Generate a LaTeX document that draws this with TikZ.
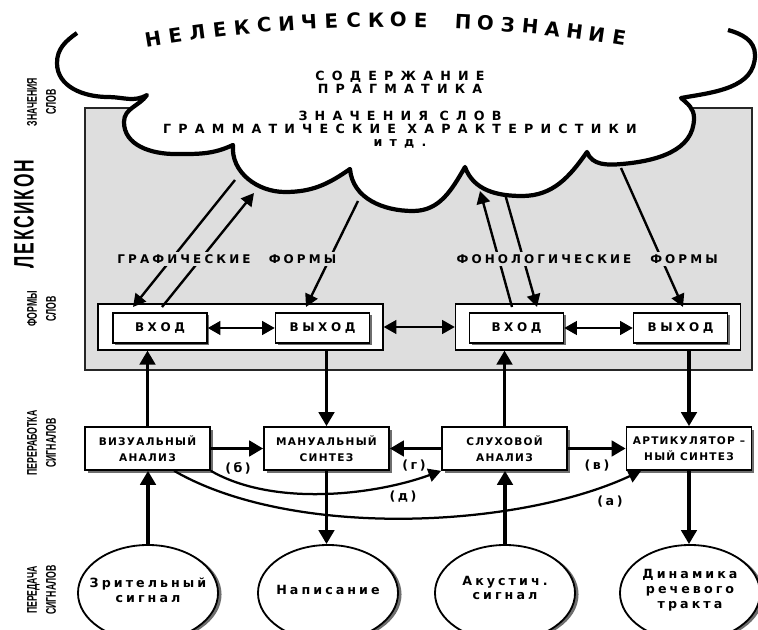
\documentclass[tikz,border=0pt]{standalone}
\usepackage{fontspec}
\usepackage{graphicx}
\setmainfont{DejaVu Sans}
\newfontfamily\sidefont{Liberation Sans}
\usetikzlibrary{arrows.meta}
\usetikzlibrary{shapes.geometric}
\usetikzlibrary{shadows}
\usetikzlibrary{calc}

\definecolor{lexgrey}{RGB}{222,222,222}
\definecolor{shadegrey}{RGB}{110,110,110}

\newcommand\titlefont{\bfseries\fontsize{14}{16}\selectfont}
\newcommand\cloudfont{\bfseries\fontsize{9}{9.25}\selectfont\addfontfeature{LetterSpace=57}}
\newcommand\stagefont{\bfseries\fontsize{7.5}{11.4}\selectfont\addfontfeature{LetterSpace=12}}
\newcommand\wordfont{\bfseries\fontsize{8.5}{9}\selectfont\addfontfeature{LetterSpace=30}}
\newcommand\labelfont{\bfseries\fontsize{8.5}{9}\selectfont\addfontfeature{LetterSpace=26}}
\newcommand\tagfont{\bfseries\fontsize{9}{9}\selectfont\addfontfeature{LetterSpace=20}}
\newcommand\signalfont{\bfseries\fontsize{9}{10.5}\selectfont\addfontfeature{LetterSpace=24}}
\newcommand\lexfont{\sidefont\bfseries\fontsize{20}{22}\selectfont\addfontfeature{LetterSpace=10}}
\newcommand\rowfont{\sidefont\bfseries\fontsize{10}{13.5}\selectfont}
\newcommand\sq[1]{\scalebox{0.62}[1]{#1}}

\tikzstyle{lexicon}=[fill=lexgrey, draw=black!85, line width=1pt]
\tikzstyle{cloud}=[fill=white, draw=black, line width=3pt, line join=round]
\tikzstyle{titlechar}=[font=\titlefont, inner sep=0]
\tikzstyle{cloudtext}=[font=\cloudfont, align=center]
\tikzstyle{sidelabel}=[rotate=90, align=center, font=\rowfont]
\tikzstyle{stage}=[draw, fill=white, line width=1.2pt, minimum width=3.125cm, minimum height=1.075cm, align=center, font=\stagefont, drop shadow={shadow xshift=2pt, shadow yshift=-2pt, fill=shadegrey, opacity=1}]
\tikzstyle{formgroup}=[draw, fill=white, line width=0.8pt, minimum width=7.125cm, minimum height=1.15cm]
\tikzstyle{wordbox}=[draw, fill=white, line width=0.9pt, minimum width=2.35cm, minimum height=0.75cm, font=\wordfont, drop shadow={shadow xshift=1.5pt, shadow yshift=-1.5pt, fill=shadegrey, opacity=1}]
\tikzstyle{signal}=[ellipse, draw, fill=white, line width=1.3pt, minimum width=3.5cm, minimum height=2.4cm, drop shadow={shadow xshift=2.5pt, shadow yshift=-1pt, fill=shadegrey, opacity=1}]
\tikzstyle{signaltext}=[font=\signalfont, align=center, inner sep=1pt]
\tikzstyle{formlabel}=[font=\labelfont, fill=lexgrey, inner sep=1.5pt]
\tikzstyle{tag}=[font=\tagfont, inner sep=1pt]
\tikzstyle{flow}=[line width=2.4pt, -{Triangle[length=10pt, width=11pt]}]
\tikzstyle{feed}=[line width=1.7pt, -{Triangle[length=9pt, width=9.5pt]}]
\tikzstyle{link}=[line width=2pt, {Triangle[length=9pt, width=9.5pt]}-{Triangle[length=9pt, width=9.5pt]}]
\tikzstyle{route}=[line width=1.6pt, -{Triangle[length=9pt, width=9.5pt]}]

\begin{document}
\begin{tikzpicture}[x=0.025cm, y=-0.025cm]
      \useasboundingbox (0,0) rectangle (758,630);

      % lexicon field and the cloud over it
      \draw[lexicon] (85,108) rectangle (752,370);
      \draw[cloud] (77,33) to[out=215,in=90] (57,63)
        to[out=270,in=180] (108,97) to[out=0,in=210] (147,95)
        to[out=235,in=90] (124,122) to[out=270,in=180] (175,154)
        to[out=0,in=205] (233,145)
        to[out=265,in=180] (285,192) to[out=0,in=215] (350,169)
        to[out=275,in=180] (413,211) to[out=0,in=240] (465,167)
        to[out=290,in=180] (522,196) to[out=0,in=235] (587,152)
        to[out=290,in=185] (622,164) to[out=5,in=270] (694,118)
        to[out=90,in=320] (681,98)
        to[out=10,in=270] (755,55) to[out=90,in=-15] (728,30);

      % title on an arc
      \coordinate (arcc) at (390,1470);
      \foreach \tch [count=\i] in {Н,Е,Л,Е,К,С,И,Ч,Е,С,К,О,Е,П,О,З,Н,А,Н,И,Е} {
        \pgfmathsetmacro\arcpos{152+(\i-1)*22.4+(\i>13)*20}
        \pgfmathsetmacro\arcang{90-(\arcpos-390)/1450*57.2958}
        \node[titlechar, rotate=\arcang-90] (t\i) at ($(arcc)+(\arcang:36.25cm)$) {\tch};
      }

      \node[cloudtext] (sem) at (400,110) {СОДЕРЖАНИЕ\\ПРАГМАТИКА\\[10pt]ЗНАЧЕНИЯ\hspace{0.9em}СЛОВ\\ГРАММАТИЧЕСКИЕ\hspace{0.9em}ХАРАКТЕРИСТИКИ\\итд.};

      % side labels
      \node[sidelabel, font=\lexfont] (lexlab) at (24,214) {\sq{ЛЕКСИКОН}};
      \node[sidelabel] (meanlab) at (41.5,102) {\sq{ЗНАЧЕНИЯ}\\\sq{СЛОВ}};
      \node[sidelabel] (formlab) at (41.5,309) {\sq{ФОРМЫ}\\\sq{СЛОВ}};
      \node[sidelabel] (proclab) at (41.5,443) {\sq{ПЕРЕРАБОТКА}\\\sq{СИГНАЛОВ}};
      \node[sidelabel] (translab) at (41.5,590) {\sq{ПЕРЕДАЧА}\\\sq{СИГНАЛОВ}};

      % word forms
      \node[formgroup] (graph) at (240.5,327) {};
      \node[formgroup] (phon) at (598,327) {};
      \node[wordbox] (gin) at (160,328) {ВХОД};
      \node[wordbox] (gout) at (322.5,328) {ВЫХОД};
      \node[wordbox] (pin) at (516.5,328) {ВХОД};
      \node[wordbox] (pout) at (680.5,328) {ВЫХОД};

      % signal processing
      \node[stage] (vis) at (147.5,448.5) {ВИЗУАЛЬНЫЙ\\АНАЛИЗ};
      \node[stage] (man) at (326.5,448.5) {МАНУАЛЬНЫЙ\\СИНТЕЗ};
      \node[stage] (aud) at (504.5,448.5) {СЛУХОВОЙ\\АНАЛИЗ};
      \node[stage] (art) at (689,448.5) {АРТИКУЛЯТОР –\\НЫЙ СИНТЕЗ};

      % signal transmission
      \node[signal] (sight) at (148,593) {};
      \node[signaltext] (sightlab) at (148,590) {Зрительный\\сигнал};
      \node[signal] (writ) at (328,593) {};
      \node[signaltext] (writlab) at (328,590) {Написание};
      \node[signal] (acou) at (505,593) {};
      \node[signaltext] (acoulab) at (505,588) {Акустич.\\сигнал};
      \node[signal] (tract) at (690,593) {};
      \node[signaltext] (tractlab) at (690,590) {Динамика\\речевого\\тракта};

      % cloud connectors
      \coordinate (cg1) at (235,180);
      \coordinate (cg2) at (254,193);
      \coordinate (cg3) at (358,201);
      \coordinate (cp1) at (480,191);
      \coordinate (cp2) at (505,194);
      \coordinate (cp3) at (621,168);
      \coordinate (gb1) at (133,307);
      \coordinate (gb2) at (162,307);
      \coordinate (gb3) at (306,307);
      \coordinate (pb1) at (512,307);
      \coordinate (pb2) at (537,307);
      \coordinate (pb3) at (683,307);

      \draw[feed] (cg1) -- (gb1);
      \draw[feed] (gb2) -- (cg2);
      \draw[feed] (cg3) -- (gb3);
      \draw[feed] (pb1) -- (cp1);
      \draw[feed] (cp2) -- (pb2);
      \draw[feed] (cp3) -- (pb3);

      \node[formlabel] (graflab) at (184,259) {ГРАФИЧЕСКИЕ};
      \node[formlabel] (grafform) at (302.5,259) {ФОРМЫ};
      \node[formlabel] (phonlab) at (544,259) {ФОНОЛОГИЧЕСКИЕ};
      \node[formlabel] (phonform) at (684,259) {ФОРМЫ};

      \draw[link] (gin) -- (gout);
      \draw[link] (pin) -- (pout);
      \draw[link] (graph) -- (phon);

      \draw[flow] (vis.north) -- (vis.north |- graph.south);
      \draw[flow] (man.north |- graph.south) -- (man.north);
      \draw[flow] (aud.north) -- (aud.north |- phon.south);
      \draw[flow] (art.north |- phon.south) -- (art.north);

      \draw[flow] (vis.east) -- (man.west);
      \draw[flow] (aud.west) -- (man.east);
      \draw[flow] (aud.east) -- (art.west);

      \draw[route] (vis.south east) to[out=-30,in=200,looseness=0.8] (aud.south west);
      \draw[route] (vis.320) to[out=-30,in=205,looseness=0.75] (art.205);

      \draw[flow] (sight.north) -- (sight.north |- vis.south);
      \draw[flow] (man.south) -- (man.south |- writ.north);
      \draw[flow] (acou.north) -- (acou.north |- aud.south);
      \draw[flow] (art.south) -- (art.south |- tract.north);

      \node[tag] (tb) at (238,468) {(б)};
      \node[tag] (tg) at (414,466) {(г)};
      \node[tag] (tv) at (597,466) {(в)};
      \node[tag] (td) at (403,497) {(д)};
      \node[tag] (ta) at (610,502) {(а)};
    \end{tikzpicture}
\end{document}
